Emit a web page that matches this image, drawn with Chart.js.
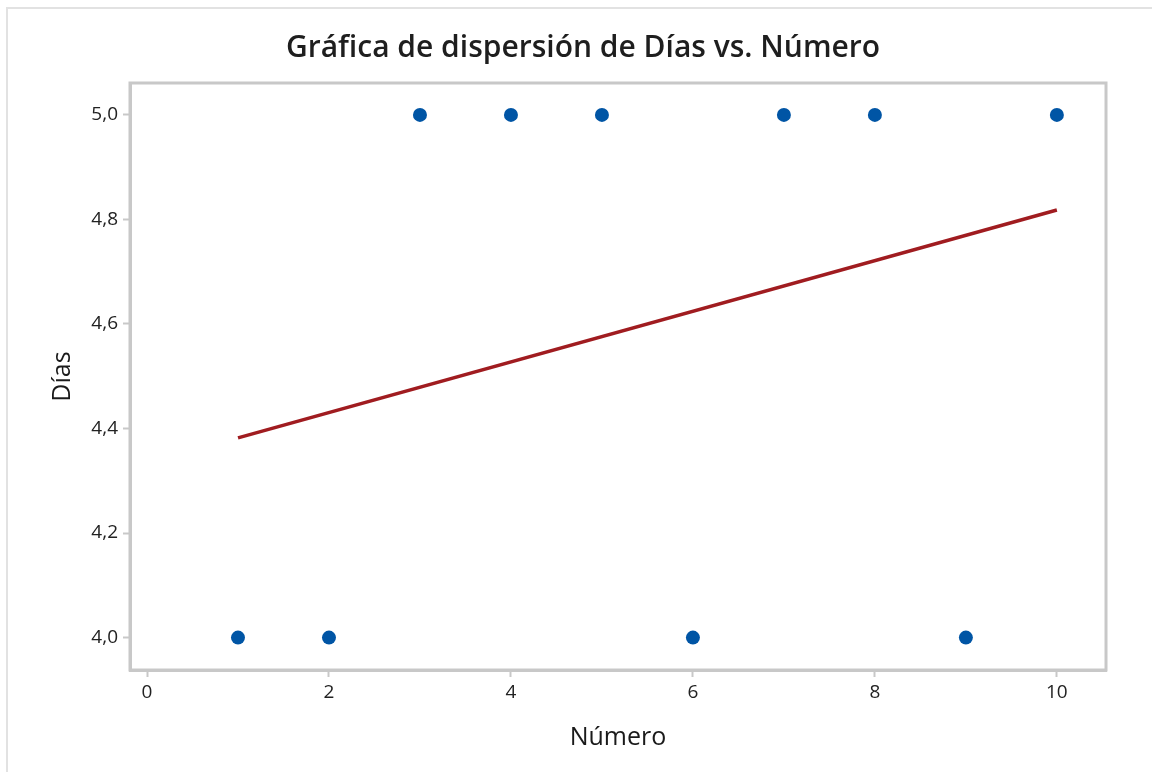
<!DOCTYPE html>
<html>
<head>
<meta charset="utf-8">
<script src="https://cdn.jsdelivr.net/npm/chart.js@4/dist/chart.umd.min.js"></script>
<style>
  html, body { margin: 0; padding: 0; background: #ffffff; }
  #wrap { width: 1152px; height: 772px; position: relative; }
</style>
</head>
<body>
<div id="wrap"><canvas id="c" width="1152" height="772"></canvas></div>
<script>
// Observations: Número (x) and Días (y)
const numero = [1, 2, 3, 4, 5, 6, 7, 8, 9, 10];
const dias = [4, 4, 5, 5, 5, 4, 5, 5, 4, 5];

// Fitted line end points
const fitX = [1, 10];
const fitY = [4.382, 4.818];

// Axis ticks
const xTickValues = [0, 2, 4, 6, 8, 10];
const xTickLabels = ['0', '2', '4', '6', '8', '10'];
const yTickValues = [4.0, 4.2, 4.4, 4.6, 4.8, 5.0];
const yTickLabels = ['4,0', '4,2', '4,4', '4,6', '4,8', '5,0'];

const FONT = "'Open Sans', 'Noto Sans', sans-serif";
const AXIS_GRAY = '#c8c8c8';

// Light frame around the page and a box around the plot area
const framePlugin = {
  id: 'frames',
  beforeDraw(chart) {
    const ctx = chart.ctx;
    ctx.save();
    ctx.strokeStyle = '#e2e2e2';
    ctx.lineWidth = 2;
    ctx.beginPath();
    ctx.moveTo(7, chart.height);
    ctx.lineTo(7, 8);
    ctx.lineTo(chart.width, 8);
    ctx.stroke();
    ctx.restore();
  },
  afterDatasetsDraw(chart) {
    const a = chart.chartArea;
    const ctx = chart.ctx;
    ctx.save();
    ctx.strokeStyle = AXIS_GRAY;
    ctx.lineWidth = 3;
    ctx.strokeRect(a.left, a.top, a.right - a.left, a.bottom - a.top);
    ctx.restore();
  }
};

new Chart(document.getElementById('c'), {
  type: 'scatter',
  data: {
    datasets: [
      {
        label: 'Ajuste',
        type: 'line',
        data: fitX.map((x, i) => ({ x: x, y: fitY[i] })),
        borderColor: '#a01c20',
        borderWidth: 3.5,
        pointRadius: 0,
        fill: false,
        order: 2
      },
      {
        label: 'Días',
        data: numero.map((x, i) => ({ x: x, y: dias[i] })),
        backgroundColor: '#0055a5',
        borderColor: '#0055a5',
        borderWidth: 0,
        pointRadius: 7,
        pointHoverRadius: 7,
        order: 1
      }
    ]
  },
  options: {
    responsive: false,
    animation: false,
    devicePixelRatio: 1,
    layout: { padding: { left: 14, right: 0, top: 0, bottom: 0 } },
    plugins: {
      legend: { display: false },
      tooltip: { enabled: false },
      title: {
        display: true,
        text: 'Gráfica de dispersión de Días vs. Número',
        color: '#1e1e1e',
        font: { family: FONT, size: 30, weight: '600' },
        padding: { top: 30, bottom: 17 }
      }
    },
    scales: {
      x: {
        type: 'linear',
        min: -0.187,
        max: 10.54,
        afterBuildTicks(scale) {
          scale.ticks = xTickValues.map(v => ({ value: v }));
        },
        afterFit(scale) { scale.height = 102; },
        ticks: {
          callback: (v) => xTickLabels[xTickValues.indexOf(v)],
          color: '#222222',
          font: { family: FONT, size: 19, weight: '500' },
          padding: 4,
          maxRotation: 0
        },
        grid: {
          drawOnChartArea: false,
          drawTicks: true,
          tickLength: 7,
          tickWidth: 2,
          tickColor: AXIS_GRAY
        },
        border: { display: true, color: AXIS_GRAY, width: 3 },
        title: {
          display: true,
          text: 'Número',
          color: '#1a1a1a',
          font: { family: FONT, size: 25, weight: '500' },
          padding: { top: 0, bottom: 19 }
        }
      },
      y: {
        type: 'linear',
        min: 3.938,
        max: 5.061,
        afterBuildTicks(scale) {
          scale.ticks = yTickValues.map(v => ({ value: v }));
        },
        afterFit(scale) { scale.width = 116; },
        ticks: {
          callback: (v) => yTickLabels[yTickValues.findIndex(t => Math.abs(t - v) < 1e-9)],
          color: '#222222',
          font: { family: FONT, size: 19, weight: '500' },
          padding: 5
        },
        grid: {
          drawOnChartArea: false,
          drawTicks: true,
          tickLength: 7,
          tickWidth: 2,
          tickColor: AXIS_GRAY
        },
        border: { display: true, color: AXIS_GRAY, width: 3 },
        title: {
          display: true,
          text: 'Días',
          color: '#1a1a1a',
          font: { family: FONT, size: 25, weight: '500' },
          padding: { top: 34, bottom: 0 }
        }
      },
      // Empty right-hand margin beside the plot box
      yRight: {
        type: 'linear',
        position: 'right',
        display: true,
        afterFit(scale) { scale.width = 46; },
        ticks: { display: false },
        grid: { display: false, drawTicks: false },
        border: { display: false },
        title: { display: false }
      }
    }
  },
  plugins: [framePlugin]
});
</script>
</body>
</html>
